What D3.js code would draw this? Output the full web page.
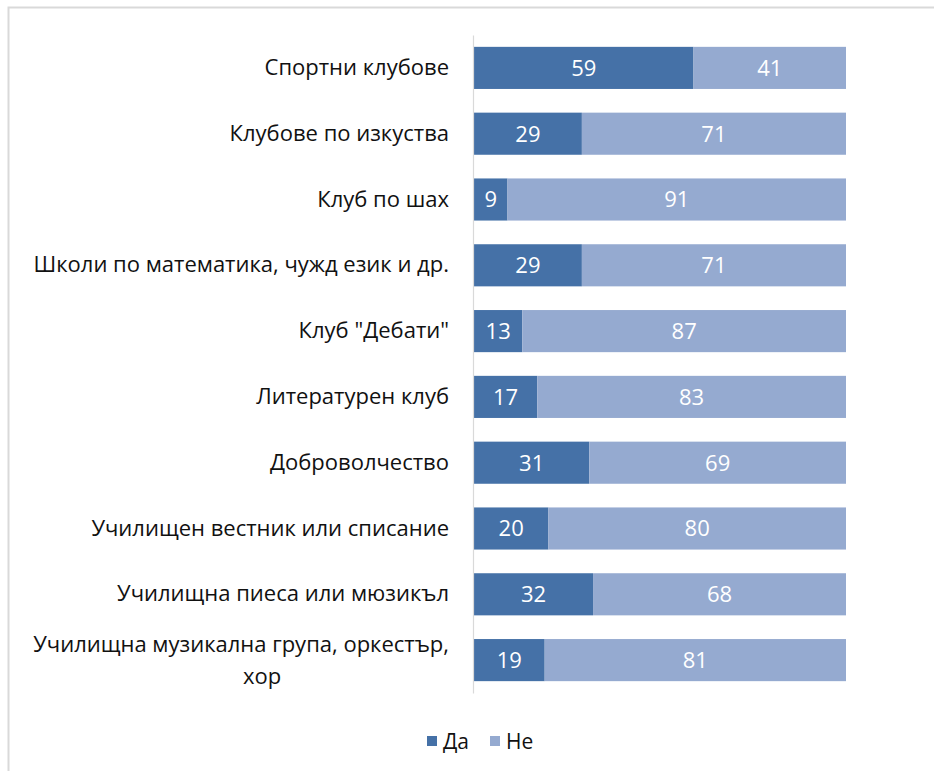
<!DOCTYPE html>
<html>
<head>
<meta charset="utf-8">
<script src="https://cdn.jsdelivr.net/npm/d3@7/dist/d3.min.js"></script>
<style>
  html, body { margin: 0; padding: 0; background: #fff; }
  svg { display: block; }
  text { font-family: "Open Sans", "Noto Sans", "DejaVu Sans", sans-serif; }
</style>
</head>
<body>
<svg id="chart" width="934" height="771"></svg>
<script>
// Participation in extracurricular activities (%)
const categories = [
  "Спортни клубове",
  "Клубове по изкуства",
  "Клуб по шах",
  "Школи по математика, чужд език и др.",
  "Клуб \"Дебати\"",
  "Литературен клуб",
  "Доброволчество",
  "Училищен вестник или списание",
  "Училищна пиеса или мюзикъл",
  "Училищна музикална група, оркестър, хор"
];
const yesValues = [59, 29, 9, 29, 13, 17, 31, 20, 32, 19];
const noValues  = [41, 71, 91, 71, 87, 83, 69, 80, 68, 81];
const seriesNames = ["Да", "Не"];
const seriesColors = ["#4571a7", "#95aad0"];

const svg = d3.select("#chart");

// outer frame
svg.append("rect")
  .attr("x", 8.5).attr("y", 7.5)
  .attr("width", 960).attr("height", 800)
  .attr("fill", "#fff")
  .attr("stroke", "#d9d9d9").attr("stroke-width", 2);

const plot = { left: 474, right: 846, top: 35, bottom: 693 };

const x = d3.scaleLinear().domain([0, 100]).range([plot.left, plot.right]);
const y = d3.scaleBand().domain(categories)
  .range([plot.top, plot.bottom]).paddingInner(0.36).paddingOuter(0.18);

const rows = categories.map((c, i) => ({ cat: c, vals: [yesValues[i], noValues[i]] }));
const stacked = d3.stack().keys([0, 1]).value((d, k) => d.vals[k])(rows);

const g = svg.append("g");
stacked.forEach((layer, si) => {
  g.selectAll(null).data(layer).enter().append("rect")
    .attr("x", d => x(d[0]))
    .attr("y", d => y(d.data.cat))
    .attr("width", d => x(d[1]) - x(d[0]))
    .attr("height", y.bandwidth())
    .attr("fill", seriesColors[si]);
  g.selectAll(null).data(layer).enter().append("text")
    .attr("x", d => (x(d[0]) + x(d[1])) / 2)
    .attr("y", d => y(d.data.cat) + y.bandwidth() / 2)
    .attr("dy", "0.36em")
    .attr("text-anchor", "middle")
    .attr("fill", "#fff")
    .attr("font-size", 22)
    .text(d => d[1] - d[0]);
});

// category axis
const axis = d3.axisLeft(y).tickSize(0).tickPadding(24);
const ax = svg.append("g").attr("transform", `translate(${plot.left - 1},0)`).call(axis);
ax.select(".domain").attr("stroke", "#d9d9d9").attr("stroke-width", 1.2);
ax.selectAll(".tick text")
  .attr("font-size", 22)
  .attr("fill", "#111")
  .style("font-family", '"Open Sans", "Noto Sans", sans-serif')
  .each(function(d) {
    const t = d3.select(this);
    if (d.length > 38) {
      const idx = d.lastIndexOf(" ");
      const first = d.slice(0, idx), second = d.slice(idx + 1);
      const xPos = +t.attr("x");
      t.text(null);
      // wrapped label: second line sits below the first, roughly centred
      t.append("tspan").attr("x", xPos).attr("dy", "-0.38em").text(first);
      t.append("tspan").attr("x", xPos - 187).attr("dy", "1.45em")
        .attr("text-anchor", "middle").text(second);
    }
  });

// legend
const legend = svg.append("g").attr("transform", "translate(427,741)");
const items = [{ name: seriesNames[0], color: seriesColors[0], x: 0 },
               { name: seriesNames[1], color: seriesColors[1], x: 63 }];
items.forEach(it => {
  legend.append("rect").attr("x", it.x).attr("y", -5).attr("width", 10).attr("height", 10).attr("fill", it.color);
  legend.append("text").attr("x", it.x + 16).attr("y", 0).attr("dy", "0.36em")
    .attr("font-size", 21).attr("fill", "#111").text(it.name);
});
</script>
</body>
</html>
